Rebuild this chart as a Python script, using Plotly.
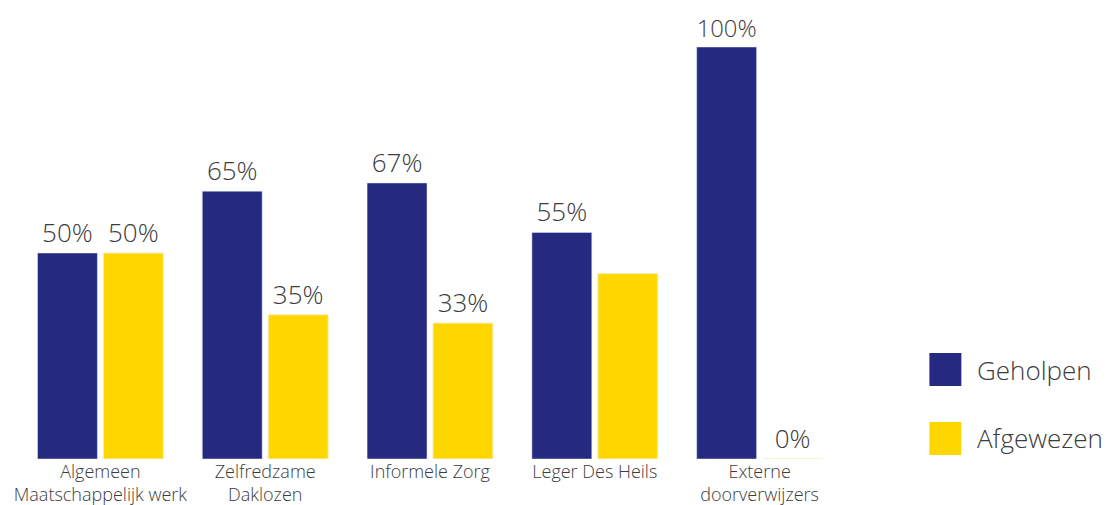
import plotly.graph_objects as go

categories = ["Algemeen<br>Maatschappelijk werk", "Zelfredzame<br>Daklozen", "Informele Zorg",
              "Leger Des Heils", "Externe<br>doorverwijzers"]
geholpen = [50, 65, 67, 55, 100]
afgewezen = [50, 35, 33, 45, 0]
geholpen_labels = ["50%", "65%", "67%", "55%", "100%"]
afgewezen_labels = ["50%", "35%", "33%", "", "0%"]
series_names = ["Geholpen", "Afgewezen"]
colors = ["#252a80", "#ffd600"]

W, H = 1108, 505
font_family = "Open Sans"
text_color = "#3c3c3c"

fig = go.Figure()
fig.add_trace(go.Bar(x=categories, y=geholpen, name=series_names[0], marker_color=colors[0],
                     text=geholpen_labels, textposition="outside",
                     textfont=dict(size=26, color=text_color, family=font_family, weight=300),
                     cliponaxis=False, showlegend=False))
fig.add_trace(go.Bar(x=categories, y=afgewezen, name=series_names[1], marker_color=colors[1],
                     marker_line=dict(color="#f3eebc", width=1),
                     text=afgewezen_labels, textposition="outside",
                     textfont=dict(size=26, color=text_color, family=font_family, weight=300),
                     cliponaxis=False, showlegend=False))

# legend keys drawn manually
legend_y = [0.217, 0.05]
for name, col, yy in zip(series_names, colors, legend_y):
    fig.add_shape(type="rect", xref="paper", yref="paper",
                  x0=(930 - 17.5) / 825, x1=(962 - 17.5) / 825,
                  y0=yy - 16.5 / 412, y1=yy + 16.5 / 412, fillcolor=col, line_width=0)
    fig.add_annotation(x=(976 - 17.5) / 825, y=yy, xref="paper", yref="paper", text=name,
                       showarrow=False, xanchor="left", yanchor="middle",
                       font=dict(size=26, color=text_color, family=font_family, weight=300))

fig.update_layout(
    width=W, height=H,
    margin=dict(l=17.5, r=265.5, t=47, b=46, autoexpand=False),
    plot_bgcolor="white", paper_bgcolor="white",
    barmode="group", bargap=0.2, bargroupgap=0.0909,
    font=dict(family=font_family, color=text_color),
    xaxis=dict(showgrid=False, showline=False, zeroline=False, ticks="", automargin=False,
               tickfont=dict(size=18, color=text_color, family=font_family, weight=300)),
    yaxis=dict(range=[0, 100], visible=False, showgrid=False, zeroline=False, automargin=False),
)

fig.write_html("out.html", config={"displayModeBar": False},
               post_script="document.body.style.margin='0';document.body.style.overflow='hidden';")
